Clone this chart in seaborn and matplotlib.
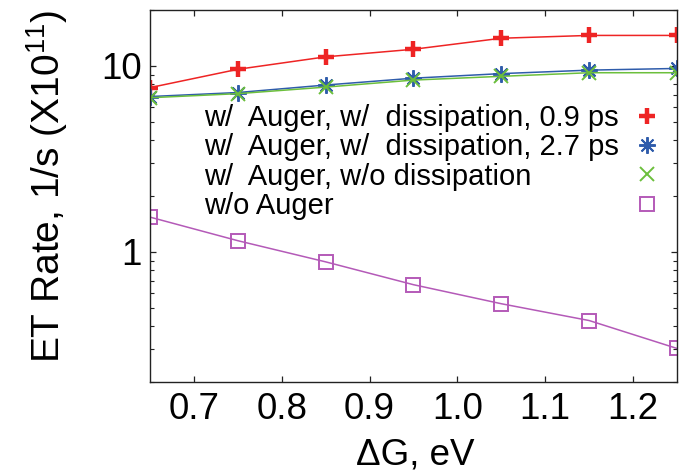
import matplotlib
matplotlib.use("Agg")
import matplotlib.pyplot as plt
import seaborn as sns
from matplotlib.lines import Line2D
from matplotlib.ticker import LogLocator, NullFormatter, FixedLocator, FixedFormatter

# ---- data ----
dG = [0.65, 0.75, 0.85, 0.95, 1.05, 1.15, 1.25]
rate_diss_09ps = [7.65, 9.6, 11.2, 12.3, 14.1, 14.6, 14.6]
rate_diss_27ps = [6.85, 7.2, 7.9, 8.6, 9.1, 9.5, 9.7]
rate_no_diss = [6.75, 7.1, 7.7, 8.4, 8.8, 9.2, 9.2]
rate_no_auger = [1.54, 1.15, 0.885, 0.667, 0.527, 0.428, 0.303]

series_labels = [
    "w/  Auger, w/  dissipation, 0.9 ps",
    "w/  Auger, w/  dissipation, 2.7 ps",
    "w/  Auger, w/o dissipation",
    "w/o Auger",
]
x_ticks = [0.7, 0.8, 0.9, 1.0, 1.1, 1.2]
x_tick_labels = ["0.7", "0.8", "0.9", "1.0", "1.1", "1.2"]
y_ticks = [1, 10]
y_tick_labels = ["1", "10"]

sns.set_style("ticks")
plt.rcParams["font.family"] = ["Liberation Sans", "DejaVu Sans"]
plt.rcParams["mathtext.default"] = "regular"
for key in ["text.color", "axes.labelcolor", "xtick.color", "ytick.color"]:
    plt.rcParams[key] = "black"

fig = plt.figure(figsize=(6.81, 4.73), dpi=100)
ax = fig.add_axes([150 / 681, 91 / 473, 527 / 681, 372 / 473])

red, blue, green, purple = "#ee2424", "#2f5cab", "#6cbf3c", "#b45ab8"

series = [
    (rate_diss_09ps, red, dict(marker="+", markersize=12, markeredgewidth=3.2,
                                markeredgecolor=red, markerfacecolor=red)),
    (rate_diss_27ps, blue, dict(marker=(8, 2, 0), markersize=12, markeredgewidth=1.4,
                                 markeredgecolor=blue, markerfacecolor=blue)),
    (rate_no_diss, green, dict(marker="x", markersize=10, markeredgewidth=1.4,
                                markeredgecolor=green, markerfacecolor=green)),
    (rate_no_auger, purple, dict(marker="s", markersize=10, markeredgewidth=1.4,
                                  markeredgecolor=purple, markerfacecolor="none")),
]

for vals, col, mk in series:
    sns.lineplot(x=dG, y=vals, ax=ax, color=col, linewidth=1.1, **mk)

ax.set_yscale("log")
ax.set_xlim(0.65, 1.25)
ax.set_ylim(0.2, 20)

ax.xaxis.set_major_locator(FixedLocator(x_ticks))
ax.xaxis.set_major_formatter(FixedFormatter(x_tick_labels))
ax.yaxis.set_major_locator(FixedLocator(y_ticks))
ax.yaxis.set_major_formatter(FixedFormatter(y_tick_labels))
ax.yaxis.set_minor_locator(LogLocator(base=10, subs=range(2, 10)))
ax.yaxis.set_minor_formatter(NullFormatter())
ax.xaxis.set_minor_locator(FixedLocator([]))

ax.tick_params(axis="both", which="major", direction="in", length=4.5, width=0.9,
               top=True, right=True, labelsize=26.5, color="#222222",
               labelcolor="black")
ax.tick_params(axis="x", which="major", pad=7)
ax.tick_params(axis="y", which="major", pad=6)
ax.tick_params(axis="y", which="minor", direction="in", length=2.8, width=0.8,
               left=True, right=True, color="#222222")
for sp in ax.spines.values():
    sp.set_linewidth(1.0)
    sp.set_color("#222222")
    sp.set_visible(True)

ax.set_xlabel("ΔG, eV", fontsize=26.5, color="black")
ax.set_ylabel("ET Rate, 1/s (X10$^{11}$)", fontsize=28, color="black")
ax.xaxis.set_label_coords(0.503, -0.15)
ax.yaxis.set_label_coords(-0.152, 0.525)

# legend: left-aligned text, right-aligned markers (gnuplot style)
marker_handles = [Line2D([], [], linestyle="none", **mk) for _, _, mk in series]
blank_handles = [Line2D([], [], linestyle="none") for _ in series]
leg_kw = dict(frameon=False, borderpad=0, borderaxespad=0, fontsize=21,
              labelspacing=0.05)
leg_text = ax.legend(blank_handles, series_labels, loc="upper left",
                     bbox_to_anchor=(0.1025, 0.748), handlelength=0,
                     handletextpad=0, labelcolor="black", **leg_kw)
ax.add_artist(leg_text)
leg_mark = ax.legend(marker_handles, series_labels, loc="upper right",
                     bbox_to_anchor=(0.966, 0.748), handlelength=0.8,
                     handletextpad=0.5, markerfirst=False, **leg_kw)
for t in leg_mark.get_texts():
    t.set_alpha(0)

fig.savefig("out.png", dpi=100)
